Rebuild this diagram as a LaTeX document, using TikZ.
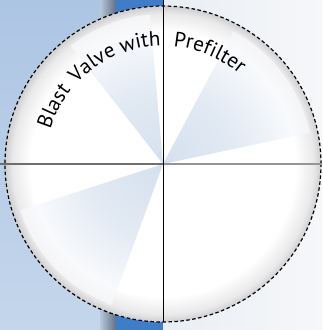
\documentclass[tikz,border=0pt]{standalone}
\usepackage{fontspec}
\setmainfont{PT Sans}
\usetikzlibrary{decorations.text,calc}
\definecolor{leftblue}{HTML}{ADC5E4}
\definecolor{leftblueb}{HTML}{C4D6EB}
\definecolor{bargrayA}{HTML}{B9C9DB}
\definecolor{bargrayB}{HTML}{5E6F88}
\definecolor{barblue}{HTML}{3F7DC9}
\definecolor{paper}{HTML}{F6F7F9}
\definecolor{paperL}{HTML}{E9EEF4}
\definecolor{rim}{HTML}{CFCFD2}
\definecolor{tint}{HTML}{B4C8E2}
\definecolor{hline}{HTML}{6E6E6E}
\definecolor{hlineb}{HTML}{959595}
\pgfdeclareradialshading{orb}{\pgfpoint{0bp}{0bp}}{color(0bp)=(white); color(21bp)=(white); color(23.8bp)=(rim!45); color(25bp)=(rim); color(50bp)=(rim)}
\pgfdeclareradialshading{tintfade}{\pgfpoint{0bp}{0bp}}{color(0bp)=(tint); color(12bp)=(tint!70!white); color(25bp)=(white); color(50bp)=(white)}
\tikzset{
  arclabel/.style={decorate, decoration={text along path, text align=left,
     text={|\fontsize{21}{21}\selectfont\color{black}|#1}}},
  rimline/.style={draw=black, line width=1.2pt, dash pattern=on 3.5pt off 2.5pt},
  wedgeshade/.style={shading=tintfade, opacity=0.55}
}
\begin{document}
\begin{tikzpicture}[x=1pt,y=1pt]
\useasboundingbox (0,0) rectangle (322,330);
% background
\shade[top color=leftblue, bottom color=leftblueb] (0,0) rectangle (100,330);
\shade[left color=bargrayA, right color=bargrayB] (100,0) rectangle (116,330);
\fill[barblue] (116,0) rectangle (163,330);
\shade[left color=paperL, right color=paper] (163,0) rectangle (322,330);
\coordinate (c) at (163,166);
% disc
\shade[shading=orb] (c) circle (158);
\foreach \a/\b in {95/128, 12/62, 198/250}{
  \begin{scope}
    \clip (c) -- ++(\a:150) arc[start angle=\a, end angle=\b, radius=150] -- cycle;
    \shade[wedgeshade] (c) circle (150);
  \end{scope}
}
\draw[rimline] (c) circle (158);
% cross lines
\coordinate (hl) at (0,166);
\coordinate (hr) at (322,166);
\coordinate (vt) at (163,330);
\coordinate (vb) at ($(c)+(0,-158)$);
\draw[hline, line width=1.8pt] (hl) -- (c);
\draw[hlineb, line width=1.8pt] (c) -- (hr);
\draw[black, line width=1pt] (vt) -- (vb);
% labels along the arc
\path[arclabel={Blast}] (c) ++(163:118) arc[start angle=163, end angle=120, radius=118];
\path[arclabel={Valve with}] (c) ++(137:118) arc[start angle=137, end angle=80, radius=118];
\path[arclabel={Prefilter}] (c) ++(85:118) arc[start angle=85, end angle=30, radius=118];
\end{tikzpicture}
\end{document}
